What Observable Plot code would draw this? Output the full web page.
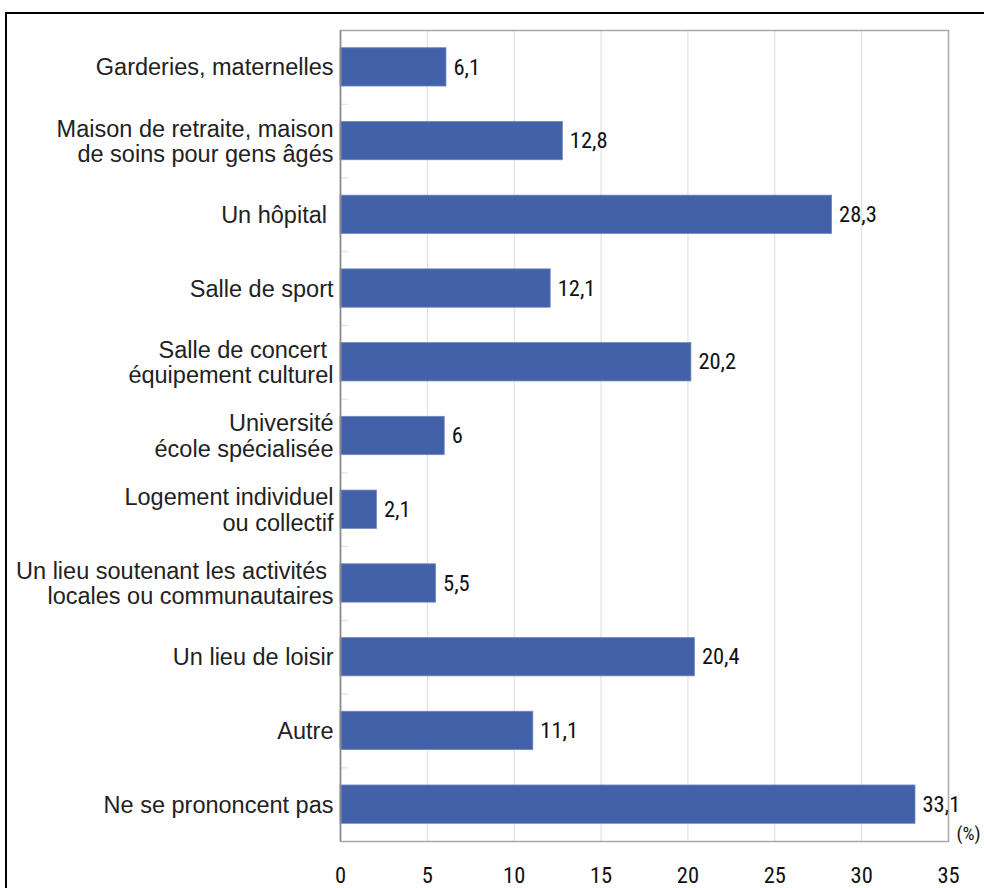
<!DOCTYPE html>
<html><head><meta charset="utf-8">
<script src="https://cdn.jsdelivr.net/npm/d3@7"></script>
<script src="https://cdn.jsdelivr.net/npm/@observablehq/plot@0.6"></script>
<style>
body{margin:0;background:#fff;overflow:hidden}
#wrap{position:relative;width:984px;height:888px;overflow:hidden}
#border{position:absolute;left:5px;top:12px;width:1000px;height:900px;border-top:2px solid #000;border-left:2px solid #000}
#chart{position:absolute;left:0;top:0}
</style></head>
<body><div id="wrap"><div id="border"></div><div id="chart"></div></div>
<script>
const categories = [
  "Garderies, maternelles",
  "Maison de retraite, maison\nde soins pour gens âgés",
  "Un hôpital\u00a0",
  "Salle de sport",
  "Salle de concert\u00a0\néquipement culturel",
  "Université\nécole spécialisée",
  "Logement individuel\nou collectif",
  "Un lieu soutenant les activités\u00a0\nlocales ou communautaires",
  "Un lieu de loisir",
  "Autre",
  "Ne se prononcent pas"
];
const values = [6.1, 12.8, 28.3, 12.1, 20.2, 6, 2.1, 5.5, 20.4, 11.1, 33.1];
const xTicks = [0, 5, 10, 15, 20, 25, 30, 35];
const unitLabel = "(%)";

const data = categories.map((c, i) => ({cat: c, v: values[i]}));
const narrow = "'Roboto Condensed','Liberation Sans Narrow','DejaVu Sans Condensed',sans-serif";

const chart = Plot.plot({
  width: 984, height: 888,
  marginLeft: 340, marginRight: 36, marginTop: 30, marginBottom: 47,
  style: {fontFamily: "'Liberation Sans', Arial, sans-serif", color: "#222", background: "transparent"},
  x: {domain: [0, 35]},
  y: {domain: categories, paddingInner: 0.48, paddingOuter: 0.24, align: 0.5, round: false},
  marks: [
    Plot.gridX(xTicks.slice(1, -1), {stroke: "#dcdcdc", strokeOpacity: 1}),
    Plot.ruleY(categories.slice(0, -1), {y: d => d, x1: 0, x2: 0.45, dy: 36.9, stroke: "#dcdcdc"}),
    Plot.barX(data, {y: "cat", x: "v", fill: "#4361a8", stroke: "#6f88c0", strokeWidth: 0.8}),
    Plot.text(data, {y: "cat", x: "v", text: d => String(d.v).replace(".", ","), dx: 7, textAnchor: "start", fontSize: 22.5, fontFamily: narrow, fill: "#111"}),
    Plot.frame({stroke: "#a8a8a8", strokeWidth: 1.5}),
    Plot.ruleX([0], {stroke: "#8a8a8a", strokeWidth: 1.5}),
    Plot.axisY({tickSize: 0, tickPadding: 7, fontSize: 23.5, lineHeight: 1.08, label: null, fill: "#222"}),
    Plot.axisX(xTicks, {tickSize: 0, tickPadding: 26, fontSize: 22.5, fontFamily: narrow, label: null, fill: "#111"}),
    Plot.text([unitLabel], {frameAnchor: "bottom-right", dx: 8, dy: -2, textAnchor: "start", fontSize: 19, fontFamily: narrow, fill: "#111"})
  ]
});
document.getElementById("chart").appendChild(chart);
</script></body></html>
